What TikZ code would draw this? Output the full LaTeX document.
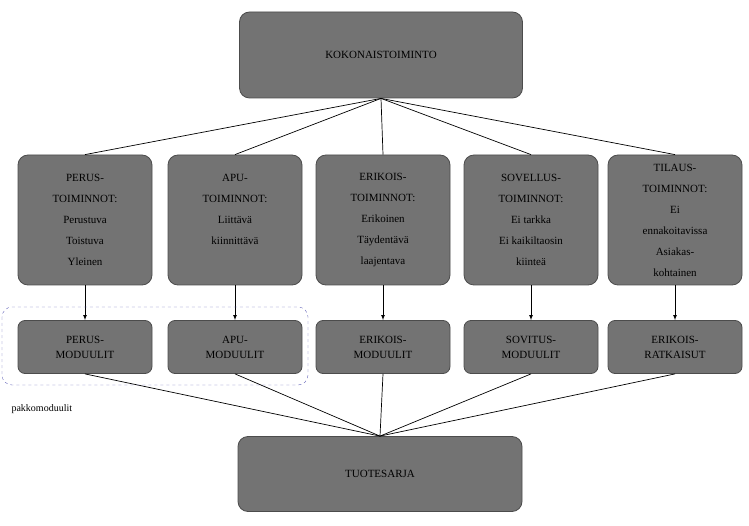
\documentclass[tikz,border=0pt]{standalone}
\usepackage{fontspec}
\setmainfont{Liberation Serif}
\begin{document}
\begin{tikzpicture}[x=1pt,y=-1pt,
  box/.style={draw=black!70,fill=black!55,rounded corners=10pt,align=center,font=\fontsize{11}{21}\selectfont,inner sep=0pt,line width=0.8pt},
  ln/.style={draw=black,line width=0.7pt}]
\useasboundingbox (0,0) rectangle (749,526);
\node[box,minimum width=283pt,minimum height=86pt] (top) at (381,55) {KOKONAISTOIMINTO};
\node[box,minimum width=284pt,minimum height=75pt] (bot) at (380,474) {TUOTESARJA};
\foreach \n/\x/\t in {m1/85/{PERUS-\\TOIMINNOT:\\Perustuva\\Toistuva\\Yleinen},
  m2/235/{APU-\\TOIMINNOT:\\Liittävä\\kiinnittävä\\ },
  m3/383/{ERIKOIS-\\TOIMINNOT:\\Erikoinen\\Täydentävä\\laajentava},
  m4/531/{SOVELLUS-\\TOIMINNOT:\\Ei tarkka\\Ei kaikiltaosin\\kiinteä},
  m5/675/{TILAUS-\\TOIMINNOT:\\Ei\\ennakoitavissa\\Asiakas-\\kohtainen}}
  {\node[box,minimum width=134pt,minimum height=130pt] (\n) at (\x,220) {\t};}
\foreach \n/\x/\t in {s1/85/{PERUS-\\MODUULIT},s2/235/{APU-\\MODUULIT},s3/383/{ERIKOIS-\\MODUULIT},s4/531/{SOVITUS-\\MODUULIT},s5/675/{ERIKOIS-\\RATKAISUT}}
  {\node[box,minimum width=134pt,minimum height=53pt,rounded corners=7pt,font=\fontsize{11}{15}\selectfont] (\n) at (\x,347) {\t};}
\foreach \i in {1,...,5}{
  \draw[ln] (top.south) -- (m\i.north);
  \draw[ln,-latex] (m\i.south) -- (s\i.north);
  \draw[ln] (bot.north) -- (s\i.south);}
\draw[dashed,draw=black!45!blue!60,rounded corners=10pt] (2,307) rectangle (308,385);
\node[font=\fontsize{10}{12}\selectfont,anchor=west] (pk) at (8,409) {pakkomoduulit};
\end{tikzpicture}
\end{document}
